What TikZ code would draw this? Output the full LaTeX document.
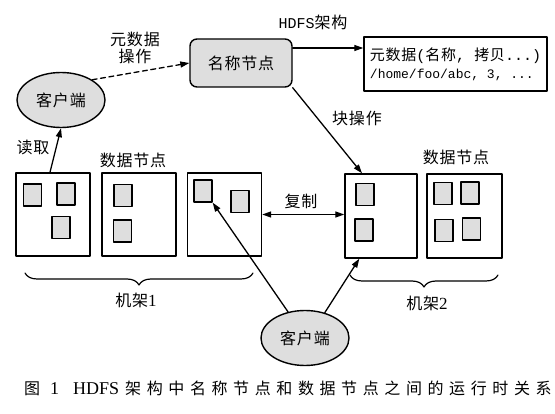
\documentclass[tikz,border=0pt]{standalone}
\usepackage{fontspec}
\setmainfont{Noto Sans CJK SC}[LetterSpace=5]
\newfontfamily\latinfont{Liberation Serif}
\newfontfamily\monofont{Liberation Mono}
\newfontfamily\capfont{Noto Sans CJK SC}[LetterSpace=35]
\usepackage{tikz}
\usetikzlibrary{arrows.meta,
                decorations.pathreplacing,
                shapes.geometric,}
\definecolor{dddddd}{rgb}{0.87,0.87,0.87}

\begin{document}
\begin{tikzpicture}[line cap=round,line join=round,x=1pt,y=-1pt,
  client/.style={ellipse,draw,line width=1.4pt,fill=dddddd,minimum width=88pt,minimum height=55pt,inner sep=0pt},
  namebox/.style={rectangle,rounded corners=7pt,draw,line width=1.4pt,fill=dddddd,minimum width=102pt,minimum height=48pt},
  metabox/.style={rectangle,draw,line width=1.4pt,minimum width=183pt,minimum height=54pt,align=left},
  datanode/.style={rectangle,draw,line width=1.4pt,minimum width=74pt,minimum height=83pt,inner sep=0pt},
  blk/.style={rectangle,draw,line width=1.3pt,fill=dddddd,minimum width=18pt,minimum height=22pt,inner sep=0pt},
  lbl/.style={font=\fontsize{16}{17}\selectfont,inner sep=0pt},
  arr/.style={line width=1.3pt,-{Triangle[length=9pt,width=6pt]}},
  rack/.style={line width=1.2pt,decorate,decoration={brace,mirror,amplitude=12pt}},
]
\fill[white] (0,0) rectangle (555,414);
\useasboundingbox (0,0) rectangle (555,414);
% name node and metadata
\node[lbl] (hdfs) at (313,22) {{\monofont\fontsize{15}{17}\selectfont HDFS}架构};
\node[namebox,lbl] (namenode) at (241,63) {名称节点};
\node[metabox,lbl,font=\fontsize{15}{18}\selectfont] (meta) at (455.5,64) {元数据{\monofont (}名称{\monofont, }拷贝{\monofont ...)}\\{\monofont\fontsize{13}{18}\selectfont /home/foo/abc, 3, ...}};
\coordinate (metain) at ([yshift=16pt]meta.west);
% clients
\node[client,lbl] (client1) at (61,100) {客户端};
\node[client,lbl] (client2) at (305,338) {客户端};
\node[lbl,align=center] (metaop) at (135,48) {元数据\\操作};
% data nodes
\node[datanode] (dn1) at (53,214.5) {};
\node[datanode] (dn2) at (139,214.5) {};
\node[datanode] (dn3) at (224.5,214.5) {};
\node[datanode,minimum width=72pt,minimum height=84pt] (dn4) at (381,216) {};
\node[datanode,minimum width=75pt,minimum height=84pt] (dn5) at (464.5,216) {};
\foreach \n/\x/\y in {b11/32.5/195, b12/66/194, b13/61/227.5,
                      b21/123/195.5, b22/122.5/231,
                      b31/203/191, b32/240/201.5,
                      b41/365/194.5, b42/364/230,
                      b51/443/193.5, b52/470/193, b53/444/230.5, b54/471.5/229}
  \node[blk] (\n) at (\x,\y) {};
\node[lbl] (dnlabel1) at (133,160) {数据节点};
\node[lbl] (dnlabel2) at (456,157) {数据节点};
\node[lbl] (read) at (33,147) {读取};
\node[lbl] (blockop) at (357,118) {块操作};
\node[lbl] (copy) at (301,201) {复制};
% racks
\draw[rack] (25,273) -- (253,273);
\draw[rack] (350,275) -- (498,275);
\node[lbl] (rack1) at (136,300) {机架{\latinfont\fontsize{17}{17}\selectfont 1}};
\node[lbl] (rack2) at (427,303) {机架{\latinfont\fontsize{17}{17}\selectfont 2}};
% connectors
\draw[arr,dash pattern=on 5pt off 3.5pt] (client1.33) -- (namenode.west);
\draw[arr] (namenode.east |- metain) -- (metain);
\draw[arr] (namenode.south east) -- ([xshift=-19pt]dn4.north);
\draw[arr] ([xshift=-3pt]dn1.north) -- (client1.south);
\draw[line width=1.3pt,{Triangle[length=9pt,width=6pt]}-{Triangle[length=9pt,width=6pt]}] (dn3.east) -- (dn3.east -| dn4.west);
\draw[arr] (client2.123) -- (b31.south east);
\draw[arr] (client2.52) -- ([xshift=15pt]dn4.south west);
% caption
\node[anchor=west,inner sep=0pt,font=\fontsize{16}{17}\selectfont] (caption) at (24,388) {\capfont 图\hspace{10pt}{\latinfont\fontsize{18}{17}\selectfont 1\hspace{14pt}HDFS}\hspace{6pt}架构中名称节点和数据节点之间的运行时关系};
\end{tikzpicture}
\end{document}
